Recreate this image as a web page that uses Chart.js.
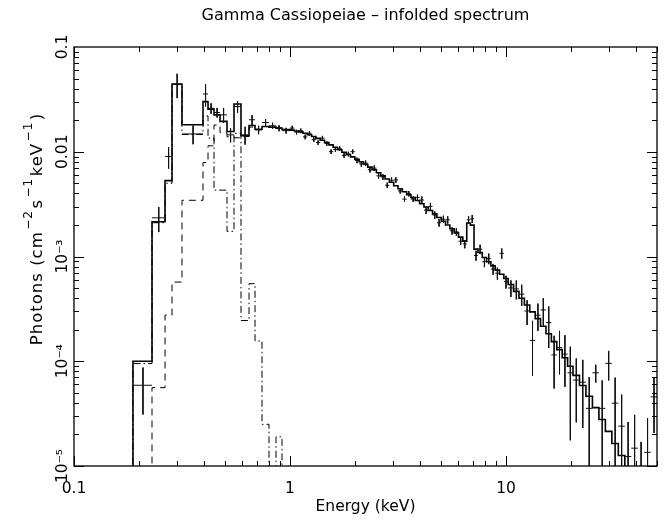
<!DOCTYPE html>
<html>
<head>
<meta charset="utf-8">
<script src="https://cdn.jsdelivr.net/npm/chart.js@4.4.1/dist/chart.umd.min.js"></script>
<style>
  html, body { margin: 0; padding: 0; background: #fff; }
</style>
</head>
<body>
<canvas id="spec" width="666" height="524"></canvas>
<script>
// below the plotted range, used where a component drops off the bottom
const OFF = 1e-7;

// channel bin edges (keV)
const binEdges = [
  0.1875, 0.2297, 0.2639, 0.2843, 0.3162, 0.3956, 0.4173, 0.4448, 0.4742, 0.5109,
  0.5505, 0.5931, 0.6460, 0.6887, 0.7420, 0.7994, 0.8614, 0.9182, 1.000,
  1.047, 1.096, 1.148, 1.202, 1.259, 1.318, 1.380, 1.445, 1.514, 1.585,
  1.660, 1.738, 1.820, 1.905, 1.995, 2.089, 2.188, 2.291, 2.399, 2.512,
  2.630, 2.754, 2.884, 3.020, 3.162, 3.311, 3.467, 3.631, 3.802, 3.981,
  4.169, 4.365, 4.571, 4.786, 5.012, 5.248, 5.495, 5.754, 6.026, 6.310,
  6.580, 6.840, 7.110,
  7.413, 7.762, 8.128, 8.511, 8.913, 9.333, 9.772, 10.23,
  10.84, 11.48, 12.16, 12.88, 13.65, 14.45, 15.31, 16.22, 17.18, 18.20, 19.28, 20.42,
  21.88, 23.44, 25.12, 26.92, 28.84, 30.90, 33.11, 35.48, 38.02, 40.74, 43.65, 46.77, 50.12
];

// folded total model, one value per bin (photons cm^-2 s^-1 keV^-1)
const modelTotal = [
  1.0e-4, 2.15e-3, 5.3e-3, 0.0444, 0.0181, 0.0301, 0.0255, 0.0225, 0.0195, 0.0156,
  0.0286, 0.0142, 0.0178, 0.0164, 0.0174, 0.0172, 0.0168, 0.0163,
  0.01607, 0.01578, 0.01549, 0.01500, 0.01452, 0.01400, 0.01343, 0.01288, 0.01225, 0.01164,
  0.01104, 0.01045, 0.00989, 0.00940, 0.00893, 0.00847, 0.00802, 0.00759, 0.00714, 0.00673,
  0.00631, 0.00589, 0.00550, 0.00511, 0.00474, 0.00443, 0.00415, 0.00389, 0.00365, 0.00342,
  0.00319, 0.00297, 0.00275, 0.00255, 0.00236, 0.00217, 0.00200, 0.00184, 0.00168, 0.00153,
  1.403e-3, 2.089e-3, 1.995e-3,
  1.175e-3, 1.091e-3, 9.77e-4, 8.91e-4, 8.13e-4, 7.41e-4, 6.76e-4, 6.17e-4,
  5.40e-4, 4.65e-4, 4.00e-4, 3.44e-4, 2.96e-4, 2.55e-4, 2.16e-4, 1.83e-4, 1.54e-4, 1.29e-4, 1.08e-4, 8.97e-5,
  7.33e-5, 5.86e-5, 4.63e-5, 3.61e-5, 2.78e-5, 2.14e-5, 1.64e-5, 1.26e-5, 9.70e-6, 7.41e-6, 5.62e-6, 4.27e-6, 3.24e-6
];

// model components below 1 keV (first 18 bins)
const hardComp = [
  OFF, 5.6e-5, 2.76e-4, 5.7e-4, 3.44e-3, 7.9e-3, 0.0114, 0.0180, 0.0152, 0.0139,
  0.0136, 0.0140, 0.0172, 0.0162, 0.0174, 0.0172, 0.0168, 0.0163
];
const softComp = [
  9.5e-5, 2.1e-3, 5.0e-3, 0.0438, 0.0146, 0.0220, 0.0135, 4.3e-3, 4.3e-3, 1.74e-3,
  0.0150, 2.45e-4, 5.5e-4, 1.56e-4, 2.5e-5, OFF, 1.9e-5, OFF
];

// measured spectrum and 1-sigma errors, one per bin
const dataFlux = [
  5.9e-5, 2.34e-3, 9.0e-3, 0.0440, 0.0148, 0.0356, 0.0260, 0.0237, 0.0225, 0.0145,
  0.0270, 0.0145, 0.0202, 0.0162, 0.0190, 0.0177, 0.0168, 0.0159,
  0.01683, 0.01542, 0.01585, 0.01385, 0.01503, 0.01306, 0.01225, 0.01349, 0.01197, 0.01002,
  0.01054, 0.01069, 0.00923, 0.00951, 0.01002, 0.00828, 0.00766, 0.00777, 0.00674, 0.00697,
  0.00589, 0.00575, 0.00479, 0.00535, 0.00538, 0.00423, 0.00353, 0.00398, 0.00353, 0.00367,
  0.00346, 0.00277, 0.00301, 0.00249, 0.00210, 0.00227, 0.00224, 0.00176, 0.00172, 0.00140,
  1.318e-3, 2.239e-3, 2.291e-3,
  1.023e-3, 1.175e-3, 8.91e-4, 9.55e-4, 7.59e-4, 6.92e-4, 1.072e-3, 5.75e-4,
  5.01e-4, 4.90e-4, 4.37e-4, 3.02e-4, 1.58e-4, 2.75e-4, 3.09e-4, 2.34e-4, 1.15e-4, 1.35e-4, 1.17e-4, 7.76e-5,
  6.61e-5, 6.31e-5, 3.55e-5, 7.76e-5, 3.55e-5, 9.55e-5, 3.98e-5, 2.40e-5, 1.23e-5, 1.48e-5, 5.0e-6, 1.35e-5, 4.57e-5
];
const dataErr = [
  2.8e-5, 6.3e-4, 2.1e-3, 0.0115, 0.0030, 0.0085, 0.0030, 0.0025, 0.0037, 0.0022,
  0.0035, 0.0028, 0.0022, 0.0015, 0.0015, 0.0012, 0.0011, 0.0010,
  8.4e-4, 7.7e-4, 7.9e-4, 6.9e-4, 7.5e-4, 6.5e-4, 6.1e-4, 6.7e-4, 6.0e-4, 5.0e-4,
  5.3e-4, 5.3e-4, 4.6e-4, 4.8e-4, 5.0e-4, 5.0e-4, 4.6e-4, 4.7e-4, 4.0e-4, 4.2e-4,
  3.5e-4, 3.5e-4, 2.9e-4, 3.2e-4, 3.2e-4, 2.5e-4, 2.1e-4, 2.4e-4, 2.1e-4, 2.2e-4,
  2.8e-4, 2.2e-4, 2.4e-4, 2.0e-4, 1.7e-4, 1.8e-4, 1.8e-4, 1.4e-4, 1.4e-4, 1.1e-4,
  1.2e-4, 1.9e-4, 2.0e-4,
  1.1e-4, 1.2e-4, 1.0e-4, 1.1e-4, 0.9e-4, 0.9e-4, 1.2e-4, 0.8e-4,
  0.9e-4, 1.0e-4, 1.0e-4, 0.8e-4, 0.85e-4, 0.8e-4, 0.9e-4, 1.0e-4, 0.6e-4, 0.6e-4, 0.6e-4, 0.6e-4,
  4.0e-5, 4.0e-5, 3.5e-5, 1.5e-5, 3.0e-5, 3.0e-5, 3.0e-5, 2.4e-5, 1.4e-5, 1.6e-5, 1.2e-5, 1.5e-5, 2.5e-5
];

// axis ticks and texts
const xTicks = [0.1, 1, 10];
const xTickLabels = ['0.1', '1', '10'];
const yTicks = [1e-5, 1e-4, 1e-3, 0.01, 0.1];
const yTickLabels = ['10\u207B\u2075', '10\u207B\u2074', '10\u207B\u00B3', '0.01', '0.1'];
const titleText = 'Gamma Cassiopeiae \u2013 infolded spectrum';
// y label pieces: [text, superscript?]
const yLabelParts = [
  ['Photons (cm', false], ['\u22122', true], ['s', false], ['\u22121', true],
  ['keV', false], ['\u22121', true], [')', false]
];

const FONT = 'DejaVu Sans';

// histogram outline: one point on each left edge, closing point on the last right edge
function stepSeries(values) {
  const pts = [{ x: 0.15, y: OFF }];
  values.forEach((v, i) => pts.push({ x: binEdges[i], y: v }));
  pts.push({ x: binEdges[values.length], y: values[values.length - 1] });
  return pts;
}

// crosses: horizontal bar over the bin, vertical bar for the error
function crossSeries() {
  const pts = [];
  dataFlux.forEach((f, i) => {
    const lo = binEdges[i], hi = binEdges[i + 1], mid = (lo + hi) / 2;
    pts.push({ x: lo, y: f }, { x: hi, y: f }, { x: hi, y: null });
    pts.push({ x: mid, y: f + dataErr[i] }, { x: mid, y: Math.max(f - dataErr[i], OFF) }, { x: mid, y: null });
  });
  return pts;
}

// frame with inward ticks on all four sides
const frameTicks = {
  id: 'frameTicks',
  afterDatasetsDraw(chart) {
    const { ctx, chartArea: a, scales: { x, y } } = chart;
    ctx.save();
    ctx.strokeStyle = '#000';
    ctx.lineWidth = 1.3;
    ctx.strokeRect(a.left, a.top, a.right - a.left, a.bottom - a.top);
    ctx.lineWidth = 1;
    ctx.beginPath();
    [0.1, 1, 10].forEach(d => {
      for (let k = 1; k <= 9; k++) {
        const v = k * d;
        if (v > 50) break;
        const px = Math.round(x.getPixelForValue(v)) + 0.5;
        const len = k === 1 ? 10 : 5;
        ctx.moveTo(px, a.bottom); ctx.lineTo(px, a.bottom - len);
        ctx.moveTo(px, a.top); ctx.lineTo(px, a.top + len);
      }
    });
    [1e-5, 1e-4, 1e-3, 0.01].forEach(d => {
      for (let k = 1; k <= 9; k++) {
        const v = k * d;
        const py = Math.round(y.getPixelForValue(v)) + 0.5;
        const len = k === 1 ? 10 : 5;
        ctx.moveTo(a.left, py); ctx.lineTo(a.left + len, py);
        ctx.moveTo(a.right, py); ctx.lineTo(a.right - len, py);
      }
    });
    ctx.stroke();
    ctx.restore();
  }
};

// y axis label with raised exponents, read bottom to top
const yLabel = {
  id: 'yLabel',
  afterDraw(chart) {
    const ctx = chart.ctx;
    const main = '16.5px "' + FONT + '"';
    const sup = '12px "' + FONT + '"';
    ctx.save();
    ctx.fillStyle = '#000';
    ctx.letterSpacing = '1px';
    let total = 0;
    const widths = yLabelParts.map(([t, s]) => {
      ctx.font = s ? sup : main;
      const w = ctx.measureText(t).width + (s ? 3 : 0);
      total += w;
      return w;
    });
    ctx.translate(42, 229);
    ctx.rotate(-Math.PI / 2);
    ctx.textBaseline = 'alphabetic';
    let pos = -total / 2;
    yLabelParts.forEach(([t, s], i) => {
      ctx.font = s ? sup : main;
      ctx.fillText(t, pos + (s ? 1.5 : 0), s ? -10 : 0);
      pos += widths[i];
    });
    ctx.restore();
  }
};

new Chart(document.getElementById('spec'), {
  type: 'line',
  data: {
    datasets: [
      {
        label: 'data',
        data: crossSeries(),
        borderColor: '#111',
        borderWidth: 1,
        pointRadius: 0,
        spanGaps: false
      },
      {
        label: 'model',
        data: stepSeries(modelTotal),
        stepped: true,
        borderColor: '#000',
        borderWidth: 1.6,
        pointRadius: 0
      },
      {
        label: 'hard',
        data: stepSeries(hardComp),
        stepped: true,
        borderColor: '#000',
        borderWidth: 1,
        borderDash: [7, 5],
        pointRadius: 0
      },
      {
        label: 'soft',
        data: stepSeries(softComp),
        stepped: true,
        borderColor: '#000',
        borderWidth: 1,
        borderDash: [7, 3, 1.5, 3],
        pointRadius: 0
      }
    ]
  },
  options: {
    responsive: false,
    animation: false,
    devicePixelRatio: 1,
    layout: { padding: { left: 0, right: 9, top: 0, bottom: 0 } },
    plugins: {
      legend: { display: false },
      tooltip: { enabled: false },
      title: { display: false }
    },
    scales: {
      x: {
        type: 'logarithmic',
        min: 0.1,
        max: 50,
        grid: { display: false, drawTicks: false },
        border: { display: false },
        afterBuildTicks: s => { s.ticks = xTicks.map(v => ({ value: v })); },
        afterFit: s => { s.height = 58; },
        ticks: {
          autoSkip: false,
          maxRotation: 0,
          padding: 14,
          color: '#000',
          font: { family: FONT, size: 15.5 },
          callback: v => xTickLabels[xTicks.indexOf(v)]
        },
        title: {
          display: true,
          text: 'Energy (keV)',
          color: '#000',
          font: { family: FONT, size: 15.5 },
          padding: { top: 0, bottom: 8 }
        }
      },
      // top axis only carries the title, so it is centred over the plot
      x2: {
        type: 'logarithmic',
        position: 'top',
        min: 0.1,
        max: 50,
        grid: { display: false, drawTicks: false },
        border: { display: false },
        ticks: { display: false },
        afterFit: s => { s.height = 47; },
        title: {
          display: true,
          text: titleText,
          color: '#000',
          font: { family: FONT, size: 16 },
          padding: { top: 6, bottom: 0 }
        }
      },
      y: {
        type: 'logarithmic',
        min: 1e-5,
        max: 0.1,
        grid: { display: false, drawTicks: false },
        border: { display: false },
        afterBuildTicks: s => { s.ticks = yTicks.map(v => ({ value: v })); },
        afterFit: s => { s.width = 74; },
        ticks: {
          autoSkip: false,
          minRotation: 90,
          maxRotation: 90,
          crossAlign: 'center',
          padding: -6,
          color: '#000',
          font: { family: FONT, size: 15.5 },
          callback: v => yTickLabels[yTicks.indexOf(v)]
        },
        title: { display: false }
      }
    }
  },
  plugins: [frameTicks, yLabel]
});
</script>
</body>
</html>
